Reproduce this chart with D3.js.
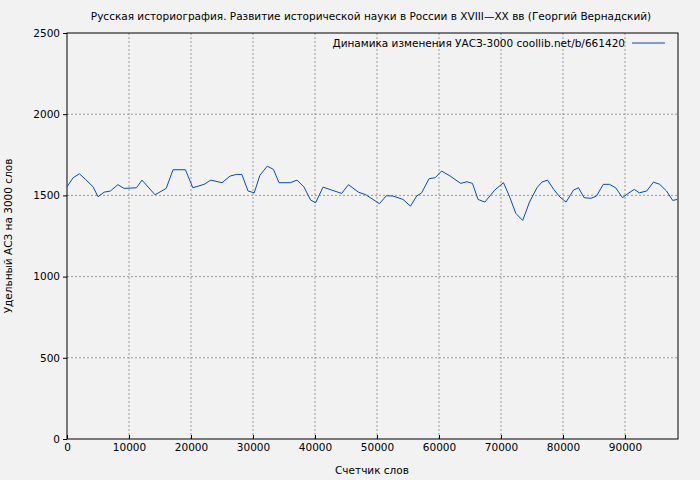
<!DOCTYPE html>
<html><head><meta charset="utf-8">
<script src="https://cdn.jsdelivr.net/npm/d3@7"></script>
<style>body{margin:0;background:#f2f2f2}svg{display:block}text{font-family:"DejaVu Sans",sans-serif}</style>
</head><body>
<svg id="c" width="700" height="480"></svg>
<script>
const xWords=[0,1000,2000,3000,4200,5000,6000,7000,8200,9200,11200,12100,14200,16000,17100,19100,20300,22100,23200,25000,26300,27300,28200,29200,30200,31100,32300,33300,34200,36000,37100,38200,39300,40100,41300,44300,45400,47000,48200,50400,51500,52600,54200,55400,56400,57200,58400,59400,60400,61800,63500,64500,65400,66300,67400,69000,70400,71300,72400,73500,74600,75800,76600,77500,78500,79500,80500,81700,82500,83400,84500,85400,86500,87500,88500,89600,90500,91500,92300,93500,94600,95600,96700,97700,98400];
const uasz=[1553,1609,1633,1598,1553,1492,1520,1527,1566,1543,1547,1594,1504,1543,1658,1658,1547,1568,1594,1578,1619,1629,1629,1527,1516,1623,1680,1660,1578,1578,1594,1553,1471,1455,1551,1512,1566,1520,1504,1449,1498,1496,1475,1434,1496,1516,1603,1609,1650,1619,1574,1584,1574,1475,1459,1533,1578,1500,1389,1346,1459,1547,1582,1594,1537,1490,1459,1533,1547,1486,1482,1496,1568,1568,1547,1486,1512,1537,1516,1527,1582,1568,1527,1469,1475];
const xTicks=[0,10000,20000,30000,40000,50000,60000,70000,80000,90000];
const yTicks=[0,500,1000,1500,2000,2500];
const FS=10.5;
const svg=d3.select("#c");
const L=67,R=678,T=33,B=439;
const x=d3.scaleLinear().domain([0,98550]).range([L,R]);
const y=d3.scaleLinear().domain([0,2500]).range([B,T]);
const g=svg.append("g");
g.selectAll(".gx").data(xTicks.slice(1)).join("line").attr("x1",d=>x(d)).attr("x2",d=>x(d)).attr("y1",T).attr("y2",B).attr("stroke","#999").attr("stroke-dasharray","2,2");
g.selectAll(".gy").data(yTicks.slice(1,-1)).join("line").attr("x1",L).attr("x2",R).attr("y1",d=>y(d)).attr("y2",d=>y(d)).attr("stroke","#999").attr("stroke-dasharray","2,2");
svg.append("rect").attr("x",L).attr("y",T).attr("width",R-L).attr("height",B-T).attr("fill","none").attr("stroke","#000");
const xa=svg.append("g").attr("transform",`translate(0,${B})`).call(d3.axisBottom(x).tickValues(xTicks).tickFormat(d3.format("d")).tickSizeInner(-4).tickSizeOuter(0));
const ya=svg.append("g").attr("transform",`translate(${L},0)`).call(d3.axisLeft(y).tickValues(yTicks).tickFormat(d3.format("d")).tickSizeInner(4).tickSizeOuter(0));
[xa,ya].forEach(a=>{a.select(".domain").remove();a.selectAll("text").attr("font-size",FS).attr("fill","#000").style("font-family","DejaVu Sans");});
xa.selectAll("text").attr("dy","0.9em");
svg.append("path").datum(xWords.map((d,i)=>[d,uasz[i]])).attr("fill","none").attr("stroke","#0a4bb4").attr("stroke-width",1)
 .attr("d",d3.line().x(d=>x(d[0])).y(d=>y(d[1])));
svg.append("text").attr("x",371).attr("y",20).attr("text-anchor","middle").attr("font-size",FS).text("Русская историография. Развитие исторической науки в России в XVIII—XX вв (Георгий Вернадский)");
svg.append("text").attr("x",625).attr("y",47).attr("text-anchor","end").attr("font-size",FS).text("Динамика изменения УАСЗ-3000 coollib.net/b/661420");
svg.append("line").attr("x1",632).attr("x2",665).attr("y1",43).attr("y2",43).attr("stroke","#0a4bb4");
svg.append("text").attr("x",372).attr("y",474).attr("text-anchor","middle").attr("font-size",FS).text("Счетчик слов");
svg.append("text").attr("transform","translate(12,236) rotate(-90)").attr("text-anchor","middle").attr("font-size",FS).text("Удельный АСЗ на 3000 слов");
</script></body></html>
